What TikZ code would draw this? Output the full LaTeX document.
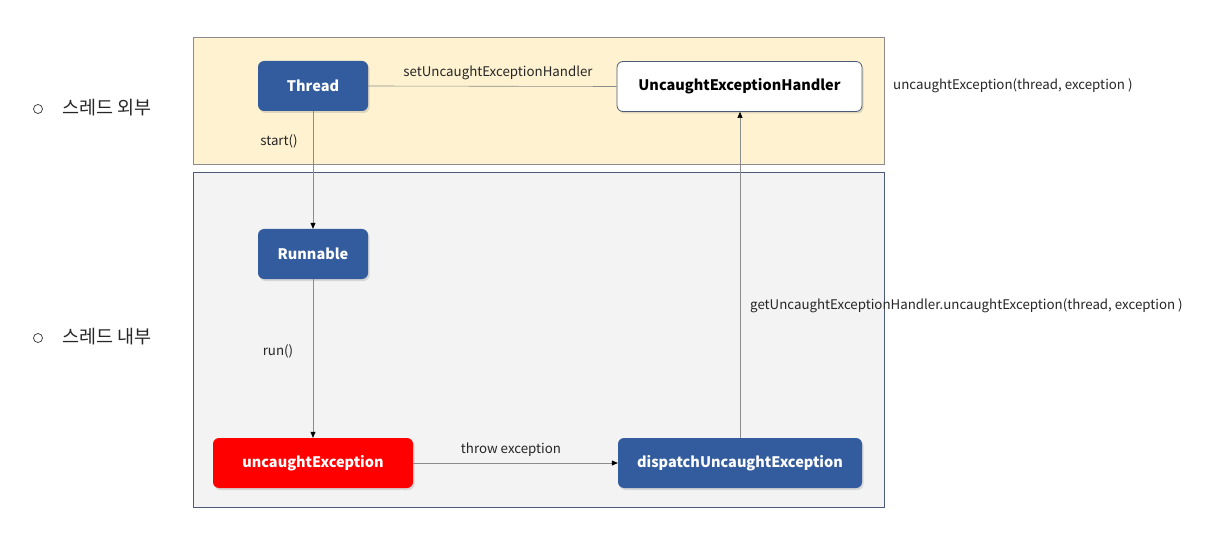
\documentclass[tikz,border=0pt]{standalone}
\usepackage{fontspec}
\setmainfont{Noto Sans CJK KR}
\usetikzlibrary{arrows.meta,shadows}
\definecolor{panelY}{HTML}{FEF2D0}
\definecolor{panelG}{HTML}{F3F3F4}
\definecolor{boxB}{HTML}{335C9E}
\definecolor{boxR}{HTML}{FF0000}
\definecolor{edgeB}{HTML}{4A5A78}
\definecolor{lineG}{HTML}{8C8C8C}
\tikzset{
  panel/.style={draw=#1, line width=0.8pt, anchor=north west, inner sep=0pt},
  blk/.style={rounded corners=6pt, minimum height=50pt, inner sep=0pt, font=\fontsize{14.5}{17}\selectfont\bfseries,
     drop shadow={shadow xshift=1.5pt, shadow yshift=-2pt, opacity=0.25}},
  bluebox/.style={blk, fill=boxB, text=white},
  redbox/.style={blk, fill=boxR, text=white},
  whitebox/.style={blk, fill=white, draw=edgeB, line width=0.8pt, text=black},
  lbl/.style={font=\fontsize{13.3}{15}\selectfont, inner sep=0pt, text=black!85},
  conn/.style={draw=lineG, line width=0.6pt},
  arr/.style={conn, -{Triangle[length=6pt,width=5pt,black]}},
  side/.style={font=\fontsize{18.5}{21}\selectfont, inner sep=0pt, anchor=west, text=black!85},
  bullet/.style={circle, draw=black!80, line width=0.7pt, minimum size=9pt, inner sep=0pt}
}
\begin{document}
\begin{tikzpicture}[x=1pt,y=-1pt]
\useasboundingbox (0,0) rectangle (1221,556);
\fill[white] (0,0) rectangle (1221,556);
% panels
\node[panel=lineG, fill=panelY, minimum width=691pt, minimum height=127pt] (outer) at (193,37) {};
\node[panel=edgeB, fill=panelG, minimum width=691pt, minimum height=335pt] (inner) at (193,172) {};
% nodes
\node[bluebox, minimum width=110pt] (thread) at (313,86) {Thread};
\node[whitebox, minimum width=245pt] (handler) at (739.5,86.5) {UncaughtExceptionHandler};
\node[bluebox, minimum width=110pt] (runnable) at (313,254) {Runnable};
\node[redbox, minimum width=200pt] (uncaught) at (313,463) {uncaughtException};
\node[bluebox, minimum width=244pt] (dispatch) at (740,463) {dispatchUncaughtException};
% connectors
\draw[conn] (thread.east) -- (handler.west);
\draw[arr] (thread.south) -- (runnable.north);
\draw[arr] (runnable.south) -- (uncaught.north);
\draw[arr] (uncaught.east) -- (dispatch.west);
\draw[arr] (dispatch.north) -- (handler.south -| dispatch.north);
% labels
\node[lbl] (l1) at (498,73) {setUncaughtExceptionHandler};
\node[lbl] (l2) at (279,141) {start()};
\node[lbl] (l3) at (278,351) {run()};
\node[lbl] (l4) at (511,450) {throw exception};
\node[lbl, anchor=west] (l5) at (750,306) {getUncaughtExceptionHandler.uncaughtException(thread, exception )};
\node[lbl, anchor=west] (l6) at (893,86) {uncaughtException(thread, exception )};
% side labels
\node[bullet] (b1) at (38,109) {};
\node[side] (s1) at (62,108) {스레드 외부};
\node[bullet] (b2) at (38,338) {};
\node[side] (s2) at (62,337) {스레드 내부};
\end{tikzpicture}
\end{document}
